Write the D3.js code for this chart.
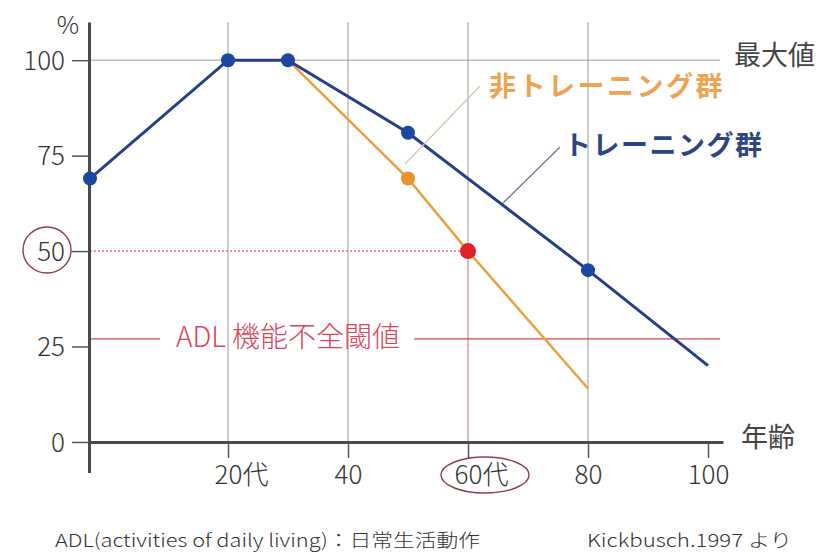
<!DOCTYPE html>
<html>
<head>
<meta charset="utf-8">
<script src="https://cdn.jsdelivr.net/npm/d3@7"></script>
<style>
  body { margin: 0; background: #fff; }
  svg { display: block; font-family: "Noto Sans CJK JP", "Noto Sans", sans-serif; }
</style>
</head>
<body>
<div id="chart"></div>
<script>
// data
var trainAges = [-3, 20, 30, 50, 80, 100];
var trainValues = [69, 100, 100, 81, 45, 20];
var trainMarkers = [true, true, true, true, true, false];

var nonTrainAges = [30, 50, 60, 80];
var nonTrainValues = [100, 69, 50, 14];

var xTickValues = [20, 40, 60, 80, 100];
var xTickLabels = ["20代", "40", "60代", "80", "100"];
var yTickValues = [0, 25, 50, 75, 100];
var gridAges = [20, 40, 60, 80];

var adlThreshold = 27;
var highlightAge = 60;
var highlightValue = 50;

var svgWidth = 825;
var svgHeight = 558;

var svg = d3.select("#chart")
  .append("svg")
  .attr("width", svgWidth)
  .attr("height", svgHeight);

var x = d3.scaleLinear().domain([-3, 102.5]).range([90, 723]);
var y = d3.scaleLinear().domain([-8, 110]).range([472.5, 22]);

var blue = "#253f85";
var orange = "#eba03e";
var red = "#d9465a";
var grid = "#9a9a9a";

// vertical gridlines
svg.selectAll(".vgrid")
  .data(gridAges)
  .enter()
  .append("line")
  .attr("x1", d => x(d))
  .attr("x2", d => x(d))
  .attr("y1", y(110))
  .attr("y2", d => d === highlightAge ? y(highlightValue) : y(0))
  .attr("stroke", grid)
  .attr("stroke-width", 1);

// lower part of the 60 line is reddish
svg.append("line")
  .attr("x1", x(highlightAge))
  .attr("x2", x(highlightAge))
  .attr("y1", y(highlightValue))
  .attr("y2", y(0))
  .attr("stroke", "#b87482")
  .attr("stroke-width", 1);

// max value line
svg.append("line")
  .attr("x1", x(-3))
  .attr("x2", 720)
  .attr("y1", y(100))
  .attr("y2", y(100))
  .attr("stroke", grid)
  .attr("stroke-width", 1);

svg.append("text")
  .attr("x", 734)
  .attr("y", y(100) - 3)
  .attr("dominant-baseline", "middle")
  .attr("fill", "#444")
  .style("font-size", "27px")
  .text("最大値");

// dotted 50% line
svg.append("line")
  .attr("x1", x(-3))
  .attr("x2", x(highlightAge))
  .attr("y1", y(highlightValue))
  .attr("y2", y(highlightValue))
  .attr("stroke", "#e0707e")
  .attr("stroke-width", 1.5)
  .attr("stroke-dasharray", "2,2");

// ADL threshold
svg.append("line")
  .attr("x1", x(-3))
  .attr("x2", 160)
  .attr("y1", y(adlThreshold))
  .attr("y2", y(adlThreshold))
  .attr("stroke", red)
  .attr("stroke-width", 1.3);

svg.append("line")
  .attr("x1", 414)
  .attr("x2", 720)
  .attr("y1", y(adlThreshold))
  .attr("y2", y(adlThreshold))
  .attr("stroke", red)
  .attr("stroke-width", 1.3);

svg.append("text")
  .attr("x", 288)
  .attr("y", y(adlThreshold) + 1)
  .attr("text-anchor", "middle")
  .attr("dominant-baseline", "middle")
  .attr("fill", red)
  .style("font-size", "28px")
  .style("font-weight", 300)
  .text("ADL 機能不全閾値");

// axes
var leftAxis = d3.axisLeft(y)
  .tickValues(yTickValues)
  .tickSize(17)
  .tickSizeOuter(0)
  .tickPadding(7);

var bottomAxis = d3.axisBottom(x)
  .tickValues(xTickValues)
  .tickFormat((d, i) => xTickLabels[i])
  .tickSize(16)
  .tickSizeOuter(0)
  .tickPadding(8);

var yAxis = svg.append("g")
  .attr("transform", `translate(${x(-3) - 1}, 0)`)
  .call(leftAxis);

var xAxis = svg.append("g")
  .attr("transform", `translate(0, ${y(0)})`)
  .call(bottomAxis);

[yAxis, xAxis].forEach(function(ax) {
  ax.select(".domain").attr("stroke", "#4a4a4a").attr("stroke-width", 3);
  ax.selectAll(".tick line").attr("stroke", "#555").attr("stroke-width", 1.5);
  ax.selectAll(".tick text")
    .attr("fill", "#333")
    .style("font-size", "26px")
    .style("font-weight", 300)
    .style("font-family", "'Noto Sans CJK JP', sans-serif");
});

// keep the digits centred on the tick when 代 follows
xAxis.selectAll(".tick text")
  .attr("dx", (d, i) => xTickLabels[i].indexOf("代") >= 0 ? 13 : 0);

yAxis.selectAll(".tick text").attr("dy", "0.35em");

svg.append("text")
  .attr("x", 68)
  .attr("y", 34)
  .attr("text-anchor", "middle")
  .attr("fill", "#333")
  .style("font-size", "25px")
  .style("font-weight", 300)
  .text("%");

svg.append("text")
  .attr("x", 741)
  .attr("y", y(0) - 2)
  .attr("dominant-baseline", "middle")
  .attr("fill", "#444")
  .style("font-size", "27px")
  .text("年齢");

// circled labels
svg.append("ellipse")
  .attr("cx", 47)
  .attr("cy", y(50) - 1)
  .attr("rx", 24)
  .attr("ry", 23)
  .attr("fill", "none")
  .attr("stroke", "#8c3f48")
  .attr("stroke-width", 1.4);

svg.append("ellipse")
  .attr("cx", 485)
  .attr("cy", 475)
  .attr("rx", 44)
  .attr("ry", 18)
  .attr("fill", "none")
  .attr("stroke", "#8c3f48")
  .attr("stroke-width", 1.4);

// lines
var lineGen = d3.line()
  .x(d => x(d[0]))
  .y(d => y(d[1]));

var nonTrainData = d3.zip(nonTrainAges, nonTrainValues);
var trainData = d3.zip(trainAges, trainValues);

svg.append("path")
  .datum(nonTrainData)
  .attr("d", lineGen)
  .attr("fill", "none")
  .attr("stroke", orange)
  .attr("stroke-width", 2.5);

svg.append("path")
  .datum(trainData)
  .attr("d", lineGen)
  .attr("fill", "none")
  .attr("stroke", blue)
  .attr("stroke-width", 3);

// leader lines
svg.append("line")
  .attr("x1", 480).attr("y1", 86)
  .attr("x2", 405).attr("y2", 164)
  .attr("stroke", "#d8c6a8")
  .attr("stroke-width", 1.3);

svg.append("line")
  .attr("x1", 560).attr("y1", 147)
  .attr("x2", 503).attr("y2", 203)
  .attr("stroke", "#6a7290")
  .attr("stroke-width", 1.3);

// points
svg.selectAll(".tpt")
  .data(trainData.filter((d, i) => trainMarkers[i]))
  .enter()
  .append("circle")
  .attr("cx", d => x(d[0]))
  .attr("cy", d => y(d[1]))
  .attr("r", 7)
  .attr("fill", "#1c47a0");

svg.selectAll(".npt")
  .data(nonTrainData.filter(d => d[0] !== 30 && d[0] !== 80))
  .enter()
  .append("circle")
  .attr("cx", d => x(d[0]))
  .attr("cy", d => y(d[1]))
  .attr("r", d => d[0] === highlightAge ? 8 : 7)
  .attr("fill", d => d[0] === highlightAge ? "#e3212b" : "#ea922c");

// series labels
svg.append("text")
  .attr("x", 489)
  .attr("y", 89)
  .attr("dominant-baseline", "middle")
  .attr("fill", "#eda350")
  .style("font-size", "27px")
  .style("font-weight", 700)
  .style("letter-spacing", "2.5px")
  .text("非トレーニング群");

svg.append("text")
  .attr("x", 564)
  .attr("y", 148)
  .attr("dominant-baseline", "middle")
  .attr("fill", "#2d4680")
  .style("font-size", "27px")
  .style("font-weight", 700)
  .style("letter-spacing", "1.5px")
  .text("トレーニング群");

// footnotes
svg.append("text")
  .attr("x", 55)
  .attr("y", 547)
  .attr("fill", "#333")
  .style("font-size", "18px")
  .style("font-weight", 300)
  .attr("textLength", 425)
  .attr("lengthAdjust", "spacingAndGlyphs")
  .text("ADL(activities of daily living)：日常生活動作");

svg.append("text")
  .attr("x", 587)
  .attr("y", 547)
  .attr("fill", "#333")
  .style("font-size", "18px")
  .style("font-weight", 300)
  .attr("textLength", 205)
  .attr("lengthAdjust", "spacingAndGlyphs")
  .text("Kickbusch.1997 より");
</script>
</body>
</html>
